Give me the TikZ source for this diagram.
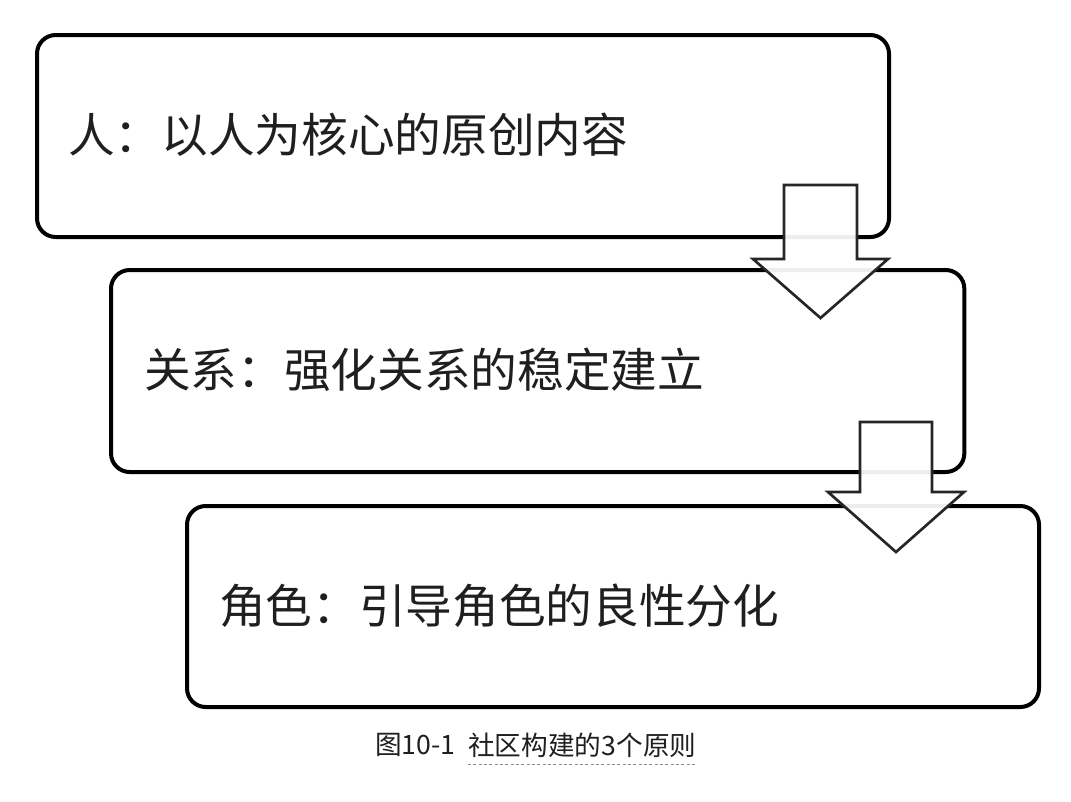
\documentclass[tikz,border=0pt]{standalone}
\usepackage{fontspec}
\newfontfamily\cjk{Noto Sans CJK SC}
\begin{document}
\begin{tikzpicture}[x=0.75pt,y=-0.75pt,
  frame/.style={draw=black, line width=3pt, rounded corners=14pt, anchor=north west, inner sep=0pt},
  boxtext/.style={anchor=west, inner sep=0pt, font=\cjk\fontsize{35}{40}\selectfont, text=black!88},
  blockarrow/.style={draw=black!85, line width=2pt, fill=white, fill opacity=0.93, line join=miter},
  captext/.style={inner sep=0pt, font=\cjk\fontsize{20}{24}\selectfont, text=black!88}]
\useasboundingbox[fill=white] (0,0) rectangle (1071,801);
% boxes
\node[frame, minimum width=639pt, minimum height=151.5pt] (b1) at (35,33) {};
\node[frame, minimum width=640pt, minimum height=151.5pt] (b2) at (109,268) {};
\node[frame, minimum width=639pt, minimum height=150.75pt] (b3) at (185,504) {};
% texts
\node[boxtext] (t1) at (68,135) {人：以人为核心的原创内容};
\node[boxtext] (t2) at (144,370) {关系：强化关系的稳定建立};
\node[boxtext] (t3) at (219,606) {角色：引导角色的良性分化};
% block arrows
\draw[blockarrow] (784,185) -- (857,185) -- (857,259) -- (888,259) -- (820.5,318) -- (753,259) -- (784,259) -- cycle;
\draw[blockarrow] (860,422) -- (932,422) -- (932,492) -- (964,492) -- (896,552) -- (828,492) -- (860,492) -- cycle;
% caption
\node[captext, anchor=west] (c1) at (375,745) {图10-1};
\node[captext, anchor=west] (c2) at (468,745) {社区构建的3个原则};
\draw[black!45, line width=0.8pt, dash pattern=on 2.2pt off 1.8pt] ([yshift=-14.5pt]c2.west) -- ([yshift=-14.5pt]c2.east);
\end{tikzpicture}
\end{document}
